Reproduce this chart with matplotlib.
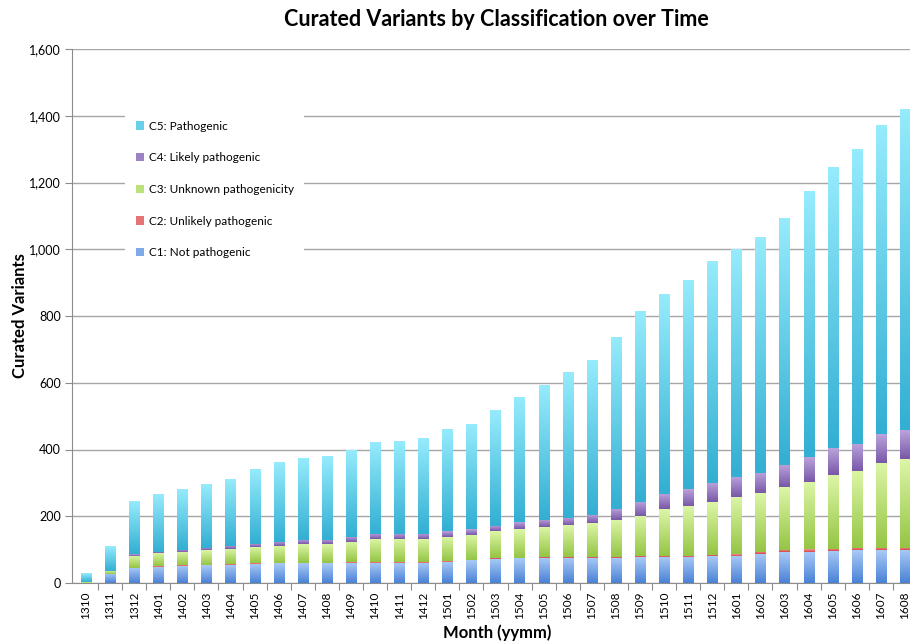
import numpy as np
import matplotlib.pyplot as plt
from matplotlib.colors import LinearSegmentedColormap
from matplotlib.patches import Patch
from matplotlib.ticker import FuncFormatter

plt.rcParams['font.family'] = ['Lato', 'DejaVu Sans']

months = ['1310', '1311', '1312', '1401', '1402', '1403', '1404', '1405', '1406',
          '1407', '1408', '1409', '1410', '1411', '1412', '1501', '1502', '1503',
          '1504', '1505', '1506', '1507', '1508', '1509', '1510', '1511', '1512',
          '1601', '1602', '1603', '1604', '1605', '1606', '1607', '1608']

c1_not = [1, 27, 45, 49, 51, 53, 54, 57, 59, 59, 59, 61, 61, 61, 61, 63, 68, 72,
          74, 75, 75, 75, 75, 77, 78, 78, 80, 81, 88, 92, 94, 97, 98, 98, 99]
c2_unlikely = [0, 0, 1, 1, 2, 2, 2, 2, 2, 2, 2, 2, 2, 2, 2, 2, 2, 3,
               2, 3, 3, 3, 3, 3, 4, 4, 5, 5, 6, 7, 7, 6, 7, 8, 7]
c3_unknown = [2, 10, 36, 39, 41, 43, 46, 48, 51, 55, 55, 61, 69, 69, 69, 73, 75, 80,
              86, 91, 95, 101, 112, 121, 140, 150, 157, 171, 175, 188, 202, 221, 231, 255, 265]
c4_likely = [0, 0, 5, 5, 6, 8, 10, 11, 12, 12, 13, 15, 15, 15, 15, 17, 16, 17,
             20, 21, 21, 25, 33, 42, 46, 49, 57, 60, 62, 68, 74, 80, 81, 86, 86]
c5_path = [25, 73, 158, 171, 181, 189, 198, 223, 237, 245, 250, 260, 274, 276, 285, 303, 314, 345,
           373, 402, 437, 463, 515, 571, 599, 625, 664, 683, 707, 740, 795, 841, 883, 925, 961]

labels = ['C1: Not pathogenic', 'C2: Unlikely pathogenic', 'C3: Unknown pathogenicity',
          'C4: Likely pathogenic', 'C5: Pathogenic']
# (dark bottom, light top) of each segment's gradient
shades = [('#4a82d6', '#a9caf6'),
          ('#d64545', '#f29a9a'),
          ('#95c545', '#dcf6a6'),
          ('#7858a8', '#bba3dc'),
          ('#33afd3', '#95ebfc')]

series = [c1_not, c2_unlikely, c3_unknown, c4_likely, c5_path]

fig = plt.figure(figsize=(9.1, 6.44), dpi=100)
ax = fig.add_axes([72 / 910, 61 / 644, 845 / 910, 534 / 644])

x = np.arange(len(months))
bottom = np.zeros(len(months))
grad = np.linspace(0, 1, 64).reshape(-1, 1)
handles = []
for vals, label, (dark, light) in zip(series, labels, shades):
    vals = np.array(vals, dtype=float)
    bars = ax.bar(x, vals, width=0.42, bottom=bottom, color='none', linewidth=0, zorder=2)
    cmap = LinearSegmentedColormap.from_list(label, [dark, light])
    for b in bars:
        h = b.get_height()
        if h <= 0:
            continue
        x0, y0, w = b.get_x(), b.get_y(), b.get_width()
        ax.imshow(grad, cmap=cmap, extent=(x0, x0 + w, y0, y0 + h), origin='lower',
                  aspect='auto', interpolation='bilinear', zorder=3)
    handles.append(Patch(facecolor=cmap(0.55), edgecolor='none', label=label))
    bottom += vals

ax.set_xlim(-0.58, len(months) - 0.58)
ax.set_ylim(0, 1600)
ax.set_yticks(np.arange(0, 1601, 200))
ax.yaxis.set_major_formatter(FuncFormatter(lambda v, p: f'{int(v):,}'))
ax.grid(axis='y', color='#a6a6a6', linewidth=1, zorder=0)
ax.set_axisbelow(True)

# category labels sit under the bars, tick marks fall between them
ax.set_xticks(x + 0.5)
ax.set_xticklabels([])
ax.set_xticks(x, minor=True)
ax.set_xticklabels(months, minor=True, rotation=90, fontsize=8.5)
ax.tick_params(axis='x', which='major', length=5, color='#8c8c8c', direction='out')
ax.tick_params(axis='x', which='minor', length=0, pad=6)
ax.tick_params(axis='y', length=5, color='#8c8c8c', labelsize=9, pad=3)

for side in ('top', 'right'):
    ax.spines[side].set_visible(False)
for side in ('left', 'bottom'):
    ax.spines[side].set_color('#8c8c8c')

leg = ax.legend(handles=handles[::-1], loc='upper left',
                bbox_to_anchor=(125 / 910, 1 - 110 / 644), bbox_transform=fig.transFigure,
                frameon=True, facecolor='white', edgecolor='none', fancybox=False,
                framealpha=1, fontsize=8.5, labelspacing=1.75, handlelength=0.7,
                handleheight=0.7, handletextpad=0.4, borderpad=0.9, borderaxespad=0)
leg.set_zorder(5)

fig.text(496 / 910, 1 - 19 / 644, 'Curated Variants by Classification over Time',
         ha='center', va='center', fontsize=15.5, fontweight='bold')
fig.text(20 / 910, 1 - 316 / 644, 'Curated Variants', rotation=90,
         ha='center', va='center', fontsize=12, fontweight='bold')
fig.text(497 / 910, 1 - 633 / 644, 'Month (yymm)',
         ha='center', va='center', fontsize=12, fontweight='bold')

fig.savefig('out.png', dpi=100)
